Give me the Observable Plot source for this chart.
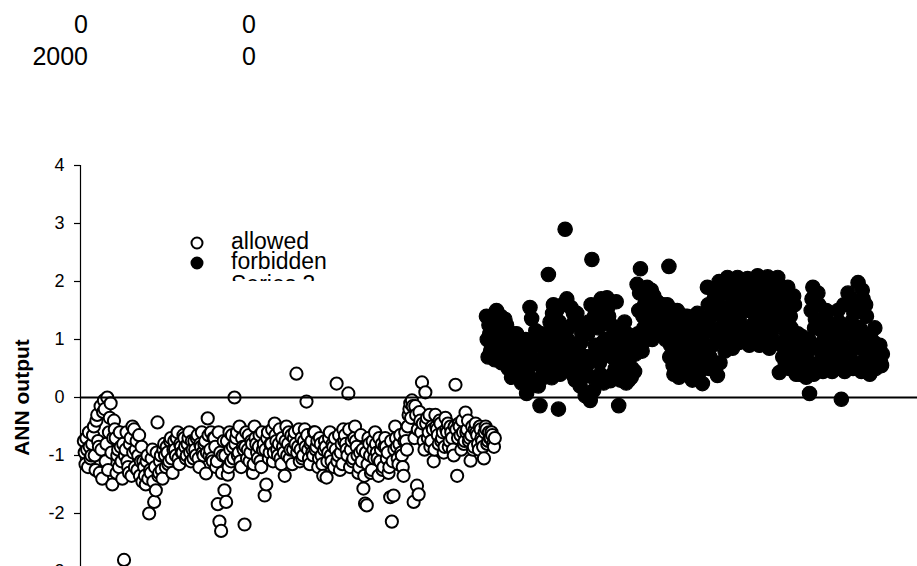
<!DOCTYPE html>
<html>
<head>
<meta charset="utf-8">
<script src="https://cdn.jsdelivr.net/npm/d3@7"></script>
<script src="https://cdn.jsdelivr.net/npm/@observablehq/plot@0.6"></script>
<style>
html, body { margin: 0; padding: 0; background: #fff; overflow: hidden; width: 917px; height: 566px; }
#wrap { position: relative; width: 917px; height: 566px; overflow: hidden; }
#chart { position: absolute; left: 0; top: 0; }
#overlay { position: absolute; left: 0; top: 0; }
</style>
</head>
<body>
<div id="wrap">
  <div id="chart"></div>
  <svg id="overlay" width="917" height="566"></svg>
</div>
<script>
// ---- data ----
const sampleStep = 4;
// allowed: samples 8, 12, 16, ... (A) and 10, 14, 18, ... (B)
const allowedStart = 8;
const allowedA = [
  -0.75, -1.15, -0.9, -0.6, -1.05, -0.8,
  -0.5, -1.25, -0.3, -0.85, -0.15, -1.4,
  -0.05, -1.1, 0.0, -0.6, -0.1, -1.5,
  -0.4, -0.7, -1.0, -1.2, -0.85, -1.4,
  -2.8, -0.9, -1.1, -1.3, -0.7, -0.5,
  -0.55, -0.9, -1.25, -0.65, -1.1, -1.45,
  -1.2, -1.5, -1.0, -2.0, -1.3, -0.9,
  -1.8, -1.6, -0.43, -1.3, -1.0, -1.4,
  -0.8, -1.2, -0.95, -1.1, -0.7, -1.3,
  -0.75, -1.0, -0.6, -1.15, -0.85, -0.95,
  -0.7, -1.05, -0.8, -0.6, -1.1, -0.9,
  -0.75, -1.0, -0.65, -1.2, -0.85, -0.95,
  -0.8, -1.31, -0.36, -1.0, -0.6, -1.1,
  -0.7, -1.2, -1.84, -2.14, -2.3, -1.0,
  -1.6, -1.8, -1.33, -0.6, -1.1, -0.85,
  0.0, -0.7, -1.0, -0.5, -1.2, -0.85,
  -2.19, -0.6, -0.9, -1.1, -0.75, -1.3,
  -0.5, -0.8, -1.05, -0.65, -1.2, -0.9,
  -1.69, -1.5, -0.6, -0.95, -0.8, -1.1,
  -0.45, -0.75, -1.0, -0.55, -1.15, -0.85,
  -1.35, -0.5, -0.8, -1.05, -0.65, -0.9,
  -0.6, 0.41, -0.85, -1.1, -0.7, -1.0,
  -0.55, -0.07, -0.9, -1.15, -0.75, -1.0,
  -0.6, -0.85, -1.2, -0.7, -1.0, -1.35,
  -0.75, -1.38, -0.95, -0.6, -1.1, -0.85,
  -0.7, 0.24, -1.0, -1.25, -0.8, -0.55,
  -0.65, -0.9, 0.07, -1.2, -0.75, -1.05,
  -0.5, -0.85, -1.3, -0.95, -1.1, -1.57,
  -1.83, -1.86, -0.7, -1.0, -1.25, -0.9,
  -0.6, -0.95, -1.35, -1.1, -0.8, -1.2,
  -0.7, -1.05, -1.3, -1.72, -2.14, -1.69,
  -0.5, -0.85, -1.15, -0.65, -1.0, -1.35,
  -0.6, -0.9, -0.3, -0.1, -0.05, -1.8,
  -0.15, -1.52, -1.67, -0.4, 0.26, -0.75,
  0.09, -0.35, -0.6, -0.85, -0.5, -1.1,
  -0.3, -0.55, -0.8, -0.45, -0.7, -0.95,
  -0.35, -0.6, -0.85, -0.5, -0.7, -1.0,
  0.22, -1.35, -0.45, -0.65, -0.4, -0.8,
  -0.26, -0.55, -0.75, -1.09, -0.5, -0.85,
  -0.45, -0.65, -0.9, -0.55, -0.75, -1.05,
  -0.5, -0.8, -0.6, -0.7, -0.65, -0.85
];
const allowedB = [
  -0.95, -0.7, -1.2, -0.85, -1.0, -0.65,
  -1.0, -0.4, -0.75, -1.3, -0.9, -0.25,
  -0.2, -0.8, -1.25, -0.35, -0.95, -0.7,
  -0.55, -1.3, -0.9, -0.6, -1.1, -0.8,
  -1.0, -0.6, -1.2, -0.8, -1.35, -0.95,
  -1.2, -0.75, -1.0, -1.35, -0.85, -1.1,
  -1.35, -1.1, -1.4, -1.25, -1.05, -1.45,
  -1.2, -0.95, -1.35, -1.1, -1.25, -0.9,
  -1.0, -0.85, -1.15, -0.75, -1.05, -0.9,
  -0.9, -0.7, -1.05, -0.8, -0.95, -0.65,
  -0.85, -1.0, -0.7, -0.95, -0.75, -1.05,
  -0.9, -0.7, -1.05, -0.8, -0.6, -1.0,
  -0.75, -0.95, -0.65, -0.9, -1.05, -0.7,
  -0.85, -1.1, -0.6, -0.95, -1.3, -0.75,
  -1.0, -0.75, -1.2, -0.9, -0.65, -1.05,
  -0.8, -0.6, -0.95, -1.1, -0.7, -0.9,
  -0.85, -1.05, -0.65, -0.95, -0.8, -1.15,
  -0.7, -0.95, -0.85, -1.1, -0.6, -0.8,
  -0.9, -0.7, -1.05, -0.8, -0.55, -0.95,
  -0.65, -0.9, -0.8, -1.05, -0.7, -0.95,
  -0.75, -1.0, -0.6, -0.9, -1.15, -0.7,
  -0.8, -0.95, -0.55, -0.9, -1.05, -0.75,
  -0.85, -0.65, -1.05, -0.8, -0.95, -0.6,
  -0.9, -0.75, -1.05, -0.8, -1.15, -0.9,
  -0.85, -1.1, -0.7, -1.0, -0.8, -1.2,
  -0.9, -1.1, -0.65, -0.95, -1.15, -0.75,
  -0.8, -1.0, -0.55, -0.9, -1.1, -0.7,
  -0.75, -1.0, -1.2, -0.65, -0.9, -1.35,
  -0.95, -1.15, -0.8, -1.3, -0.75, -1.05,
  -0.8, -1.05, -0.7, -0.9, -1.25, -0.85,
  -0.85, -0.95, -1.2, -0.75, -1.1, -0.9,
  -0.7, -1.05, -0.8, -0.95, -1.2, -0.75,
  -0.75, -0.5, -0.2, -0.35, -0.15, -0.7,
  -0.3, -0.55, -0.25, -0.6, -0.45, -0.9,
  -0.45, -0.7, -0.3, -0.75, -0.55, -0.9,
  -0.5, -0.65, -0.4, -0.75, -0.6, -0.85,
  -0.55, -0.45, -0.75, -0.6, -0.9, -0.5,
  -0.55, -0.7, -0.5, -0.9, -0.6, -0.75,
  -0.6, -0.4, -0.7, -0.65, -0.9, -0.55,
  -0.6, -0.8, -0.5, -0.7, -0.85, -0.6,
  -0.55, -0.75, -0.7, -0.6, -0.8, -0.7
];
// forbidden: samples 970, 974, ... (A) and 972, 976, ... (B)
const forbiddenStart = 970;
const forbiddenA = [
  1.4, 0.7, 1.1, 0.9, 1.3, 0.65,
  1.5, 0.8, 1.2, 0.6, 1.0, 1.35,
  1.25, 0.5, 0.9, 0.35, 1.1, 0.7,
  1.1, 0.4, 0.8, 0.25, 0.95, 0.6,
  0.07, 0.5, 1.55, 1.36, 0.9, 0.3,
  0.65, 0.2, -0.14, 1.1, 0.45, 0.8,
  0.6, 2.12, 1.3, 0.34, 1.6, 0.9,
  1.5, -0.2, 0.4, 1.1, 0.7, 2.9,
  1.7, 1.2, 0.5, 0.9, 1.45, 0.3,
  1.45, 0.8, 0.2, 1.1, 0.5, 0.03,
  0.55, 1.3, -0.05, 2.38, 0.12, 0.9,
  1.6, 1.2, 0.4, 0.8, 0.25, 1.0,
  1.72, 1.4, 0.29, 0.7, 1.1, 0.5,
  1.2, -0.14, 0.3, 0.8, 0.5, 1.0,
  1.1, 0.3, 0.7, 0.5, 0.9, 0.75,
  1.95, 1.5, 2.22, 0.8, 1.2, 1.7,
  1.9, 1.3, 1.6, 1.0, 1.75, 1.15,
  1.65, 1.1, 1.4, 1.2, 1.55, 1.0,
  1.6, 2.26, 0.9, 1.3, 0.4, 1.1,
  1.5, 0.35, 0.8, 1.2, 0.6, 1.0,
  1.4, 0.5, 0.9, 0.3, 1.15, 0.7,
  1.45, 0.6, 1.0, 0.24, 1.2, 0.8,
  1.9, 0.5, 1.4, 0.9, 1.7, 1.1,
  0.38, 2.0, 1.5, 1.0, 1.8, 1.2,
  2.07, 1.1, 1.6, 0.85, 1.9, 1.3,
  2.07, 0.95, 1.5, 1.2, 1.85, 1.05,
  2.05, 0.9, 1.65, 1.25, 1.9, 1.4,
  2.1, 0.9, 1.5, 1.15, 1.8, 1.3,
  2.08, 0.85, 1.6, 1.0, 1.9, 1.25,
  2.07, 0.43, 1.5, 0.7, 1.8, 1.1,
  1.9, 0.5, 1.2, 0.8, 1.6, 0.4,
  1.1, 0.4, 0.8, 0.6, 1.0, 0.35,
  0.8, 0.07, 1.5, 1.9, 1.2, 0.5,
  1.8, 0.6, 1.3, 0.45, 1.0, 1.5,
  1.2, 0.5, 0.9, 0.7, 1.1, 0.6,
  1.5, 0.6, -0.03, 1.1, 0.45, 0.85,
  1.8, 0.7, 1.3, 0.5, 1.6, 1.0,
  1.98, 1.2, 0.45, 1.7, 0.8, 1.4,
  1.0, 0.4, 0.8, 0.55, 1.2, 0.7,
  0.7, 0.9, 0.55
];
const forbiddenB = [
  1.0, 1.25, 0.8, 1.15, 0.95, 1.2,
  1.1, 0.9, 1.4, 0.7, 1.25, 0.95,
  0.8, 1.05, 0.6, 0.95, 0.45, 1.0,
  0.7, 0.5, 0.9, 0.35, 0.75, 1.0,
  0.4, 0.8, 0.2, 1.0, 0.6, 1.15,
  0.3, 0.9, 0.55, 1.0, 0.35, 0.7,
  0.8, 1.1, 0.5, 1.45, 0.7, 1.2,
  0.9, 1.3, 0.55, 1.6, 0.8, 1.2,
  1.0, 0.7, 1.55, 0.4, 1.3, 0.8,
  1.3, 0.6, 0.95, 0.35, 1.2, 0.7,
  1.1, 0.7, 1.6, 0.35, 1.4, 0.8,
  1.4, 0.6, 1.7, 0.95, 0.35, 1.3,
  1.55, 0.9, 1.25, 0.4, 1.0, 1.65,
  0.9, 0.4, 1.1, 0.65, 1.3, 0.25,
  0.6, 0.9, 0.35, 1.0, 0.45, 0.8,
  1.1, 1.8, 0.9, 1.4, 1.6, 1.0,
  1.5, 1.2, 1.85, 1.4, 1.1, 1.65,
  1.3, 1.5, 1.15, 1.6, 1.35, 1.25,
  1.45, 0.7, 1.2, 0.55, 1.5, 0.9,
  1.3, 0.5, 1.1, 0.7, 1.4, 0.9,
  1.2, 0.8, 0.45, 1.05, 0.6, 1.3,
  1.3, 0.45, 0.9, 1.1, 0.55, 1.35,
  1.6, 0.7, 1.2, 1.85, 0.55, 1.5,
  1.6, 0.6, 1.95, 1.3, 0.8, 1.45,
  1.45, 1.95, 1.0, 1.75, 1.2, 2.0,
  1.7, 1.3, 2.0, 1.1, 1.6, 1.95,
  1.5, 2.0, 1.1, 1.75, 1.3, 2.05,
  1.95, 1.4, 1.7, 1.0, 2.0, 1.6,
  1.4, 1.95, 1.15, 1.7, 2.0, 1.5,
  1.95, 1.3, 0.9, 1.6, 0.55, 1.25,
  1.0, 1.4, 0.6, 1.75, 0.9, 0.5,
  0.9, 0.5, 1.05, 0.7, 0.45, 0.85,
  1.0, 0.6, 1.7, 0.4, 1.35, 0.9,
  1.6, 0.8, 1.15, 0.55, 1.4, 0.7,
  0.85, 1.25, 0.45, 1.0, 0.65, 0.8,
  1.3, 0.5, 0.9, 1.6, 0.7, 1.2,
  1.1, 1.7, 0.6, 1.45, 0.85, 1.2,
  1.5, 0.6, 1.85, 1.0, 1.6, 0.55,
  0.9, 1.1, 0.6, 0.95, 0.5, 0.85,
  0.8, 0.6, 0.75
];
// third series: the horizontal line (its cells are shown at top-left)
const lineX = [0, 2000];
const lineY = [0, 0];
const yTicks = [-3, -2, -1, 0, 1, 2, 3, 4];
const seriesNames = ["allowed", "forbidden", "Series 3"];
const yLabel = "ANN output";

// ---- build tables ----
function toPoints(arr, start) {
  return arr.map((y, i) => ({x: start + i * sampleStep, y}));
}
const allowed = toPoints(allowedA, allowedStart)
  .concat(toPoints(allowedB, allowedStart + sampleStep / 2))
  .sort((a, b) => a.x - b.x);
const forbidden = toPoints(forbiddenA, forbiddenStart)
  .concat(toPoints(forbiddenB, forbiddenStart + sampleStep / 2))
  .sort((a, b) => a.x - b.x);
const zeroLine = lineX.map((x, i) => ({x, y: lineY[i]}));

const font = "'Liberation Sans', Arial, Helvetica, sans-serif";

const chart = Plot.plot({
  width: 917,
  height: 680,
  marginLeft: 80,
  marginRight: 0,
  marginTop: 165,
  marginBottom: 51,
  style: {fontFamily: font, fontSize: "17px", color: "#000", background: "transparent", overflow: "visible"},
  x: {domain: [0, 2000], axis: null},
  y: {domain: [-4, 4], axis: null},
  marks: [
    Plot.ruleX([0], {y1: -4, y2: 4, stroke: "#000", strokeWidth: 1.2}),
    Plot.axisY({ticks: yTicks, tickSize: 6, text: null, label: null, stroke: "#000", strokeWidth: 1.2}),
    Plot.text(yTicks, {y: d => d, x: 0, dx: -16, text: d => String(d), textAnchor: "end", lineAnchor: "middle", fontSize: 18, fill: "#000"}),
    Plot.text([yLabel], {frameAnchor: "left", dx: -58, rotate: -90, textAnchor: "middle", lineAnchor: "middle", fontWeight: "bold", fontSize: 21, fill: "#000"}),
    Plot.dot(allowed, {x: "x", y: "y", r: 6.1, fill: "#fff", stroke: "#000", strokeWidth: 2}),
    Plot.dot(forbidden, {x: "x", y: "y", r: 7.2, fill: "#000", stroke: "#000", strokeWidth: 1.2}),
    Plot.line(zeroLine, {x: "x", y: "y", stroke: "#000", strokeWidth: 2})
  ]
});
document.getElementById("chart").appendChild(chart);

// ---- overlay: spreadsheet cells and legend ----
const ov = d3.select("#overlay").style("font-family", font);
const cells = [
  {t: String(lineX[0]), x: 88, y: 33}, {t: String(lineY[0]), x: 256, y: 33},
  {t: String(lineX[1]), x: 88, y: 65}, {t: String(lineY[1]), x: 256, y: 65}
];
ov.selectAll("text.cell").data(cells).join("text")
  .attr("class", "cell").attr("x", d => d.x).attr("y", d => d.y)
  .attr("text-anchor", "end").attr("font-size", 25).attr("fill", "#000").text(d => d.t);

ov.append("clipPath").attr("id", "legclip").append("rect")
  .attr("x", 180).attr("y", 226).attr("width", 200).attr("height", 55);
const leg = ov.append("g").attr("clip-path", "url(#legclip)");
const legRows = [
  {name: seriesNames[0], cy: 243, base: 249, fill: "#fff"},
  {name: seriesNames[1], cy: 263, base: 269, fill: "#000"},
  {name: seriesNames[2], cy: 284, base: 292, fill: null}
];
legRows.forEach(r => {
  if (r.fill) leg.append("circle").attr("cx", 197).attr("cy", r.cy).attr("r", 5.5)
    .attr("fill", r.fill).attr("stroke", "#000").attr("stroke-width", 2);
  leg.append("text").attr("x", 231).attr("y", r.base).attr("font-size", 23)
    .attr("fill", "#000").text(r.name);
});
</script>
</body>
</html>
